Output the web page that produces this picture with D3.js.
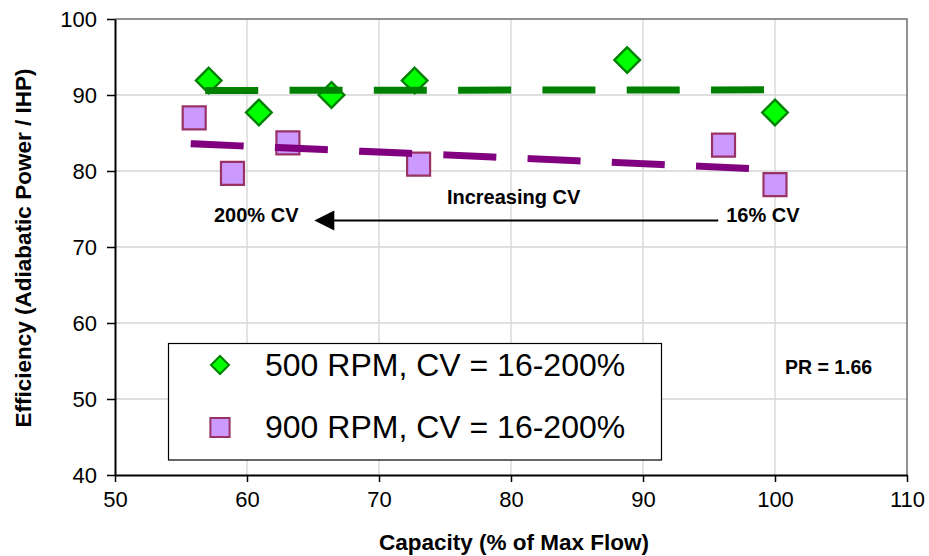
<!DOCTYPE html>
<head>
    <meta charset="utf-8">
    <title>Efficiency vs Capacity</title>
    <style>
        body { margin: 0; background: #fff; }
        text { font-family: "Liberation Sans", Arial, sans-serif; fill: #000; }
    </style>
</head>

<body>

<svg width="929" height="556"></svg>

<script src="https://cdnjs.cloudflare.com/ajax/libs/d3/7.8.5/d3.min.js"></script>

<script>

    // data
    var rpm500X = [57.1, 60.9, 66.4, 72.7, 88.8, 100.0],
        rpm500Y = [91.9, 87.7, 90.0, 91.9, 94.6, 87.7];
    var rpm900X = [56.0, 58.9, 63.1, 73.0, 96.1, 100.0],
        rpm900Y = [87.0, 79.7, 83.7, 80.9, 83.4, 78.2];

    var xTicks = [50, 60, 70, 80, 90, 100, 110],
        yTicks = [40, 50, 60, 70, 80, 90, 100];

    var legendLabels = ["500 RPM, CV = 16-200%", "900 RPM, CV = 16-200%"];

    var svg = d3.select("svg");

    var x = d3.scaleLinear().domain([50, 110]).range([115, 907]),
        y = d3.scaleLinear().domain([40, 100]).range([475, 19]);

    var series = [
        {x: rpm500X, y: rpm500Y, shape: "diamond", fill: "#00ff00", stroke: "#008000", line: "#008000"},
        {x: rpm900X, y: rpm900Y, shape: "square",  fill: "#cc99ff", stroke: "#993366", line: "#800080"}
    ];

    // gridlines
    svg.append("g").selectAll("line")
        .data(xTicks.slice(1, -1))
        .enter().append("line")
        .attr("x1", function(d) { return x(d); }).attr("x2", function(d) { return x(d); })
        .attr("y1", y(100)).attr("y2", y(40))
        .attr("stroke", "#d4d4d4").attr("stroke-width", 1.3);

    svg.append("g").selectAll("line")
        .data(yTicks.slice(1, -1))
        .enter().append("line")
        .attr("x1", x(50)).attr("x2", x(110))
        .attr("y1", function(d) { return y(d); }).attr("y2", function(d) { return y(d); })
        .attr("stroke", "#d4d4d4").attr("stroke-width", 1.3);

    // top / right frame
    svg.append("path")
        .attr("d", "M" + x(50) + "," + y(100) + "H" + x(110) + "V" + y(40))
        .attr("fill", "none").attr("stroke", "#6e6e6e").attr("stroke-width", 1.5);

    // axes
    var xAxis = svg.append("g")
        .attr("transform", "translate(0," + y(40) + ")")
        .call(d3.axisBottom(x).tickValues(xTicks).tickSize(7).tickPadding(9).tickSizeOuter(0));
    var yAxis = svg.append("g")
        .attr("transform", "translate(" + x(50) + ",0)")
        .call(d3.axisLeft(y).tickValues(yTicks).tickSize(8).tickPadding(10).tickSizeOuter(0));

    [xAxis, yAxis].forEach(function(a) {
        a.select(".domain").attr("stroke", "#000").attr("stroke-width", 2);
        a.selectAll(".tick line").attr("stroke", "#000").attr("stroke-width", 1.5);
        a.selectAll("text")
            .style("font-family", "'Liberation Sans', Arial, sans-serif")
            .style("font-size", "22px").attr("fill", "#000");
    });
    yAxis.selectAll("text").attr("dy", "0.35em");

    // axis titles
    svg.append("text")
        .attr("x", 514).attr("y", 550)
        .attr("text-anchor", "middle")
        .style("font-size", "22.5px").style("font-weight", "bold")
        .text("Capacity (% of Max Flow)");

    svg.append("text")
        .attr("transform", "translate(31,248) rotate(-90)")
        .attr("text-anchor", "middle")
        .style("font-size", "22.5px").style("font-weight", "bold")
        .text("Efficiency (Adiabatic Power / IHP)");

    // marker shapes
    function marker(shape, r) {
        if (shape === "diamond") return "M0," + (-r) + "L" + r + ",0L0," + r + "L" + (-r) + ",0Z";
        return "M" + (-r) + "," + (-r) + "H" + r + "V" + r + "H" + (-r) + "Z";
    }

    // points
    series.forEach(function(s) {
        svg.append("g").selectAll("path")
            .data(s.x.map(function(v, i) { return [v, s.y[i]]; }))
            .enter().append("path")
            .attr("transform", function(d) { return "translate(" + x(d[0]) + "," + y(d[1]) + ")"; })
            .attr("d", marker(s.shape, s.shape === "diamond" ? 12.8 : 11.5))
            .attr("fill", s.fill)
            .attr("stroke", s.stroke)
            .attr("stroke-width", s.shape === "diamond" ? 2.4 : 2.2);
    });

    // linear trendlines (least squares on each series)
    series.forEach(function(s) {
        var mx = d3.mean(s.x), my = d3.mean(s.y);
        var num = d3.sum(s.x, function(v, i) { return (v - mx) * (s.y[i] - my); });
        var den = d3.sum(s.x, function(v) { return (v - mx) * (v - mx); });
        var slope = num / den, icpt = my - slope * mx;
        var x0 = d3.min(s.x), x1 = d3.max(s.x);
        svg.append("line")
            .attr("x1", x(x0)).attr("y1", y(icpt + slope * x0))
            .attr("x2", x(x1)).attr("y2", y(icpt + slope * x1))
            .attr("stroke", s.line)
            .attr("stroke-width", 7)
            .attr("stroke-linecap", "square")
            .attr("stroke-dasharray", "46,38.3");
    });

    // annotations
    svg.append("text")
        .attr("x", x(80.2)).attr("y", y(75.7))
        .attr("text-anchor", "middle")
        .style("font-size", "20px").style("font-weight", "bold")
        .text("Increasing CV");

    svg.append("text")
        .attr("x", x(57.5)).attr("y", y(73.35))
        .style("font-size", "20px").style("font-weight", "bold")
        .text("200% CV");

    svg.append("text")
        .attr("x", x(96.3)).attr("y", y(73.35))
        .style("font-size", "20px").style("font-weight", "bold")
        .text("16% CV");

    svg.append("text")
        .attr("x", x(100.75)).attr("y", y(53.3))
        .style("font-size", "19.5px").style("font-weight", "bold")
        .text("PR = 1.66");

    // arrow: from 16% CV toward 200% CV
    var arrowY = y(73.5), tipX = x(65.1);
    svg.append("line")
        .attr("x1", x(95.7)).attr("y1", arrowY)
        .attr("x2", tipX + 12).attr("y2", arrowY)
        .attr("stroke", "#000").attr("stroke-width", 2);
    svg.append("path")
        .attr("d", "M" + tipX + "," + arrowY + "l20,-10v20z")
        .attr("fill", "#000");

    // legend
    var legend = svg.append("g");
    legend.append("rect")
        .attr("x", 168.5).attr("y", 343.5)
        .attr("width", 493).attr("height", 116.5)
        .attr("fill", "#fff").attr("stroke", "#000").attr("stroke-width", 1.2);

    series.forEach(function(s, i) {
        var ly = 365 + i * 62.5;
        legend.append("path")
            .attr("transform", "translate(220," + ly + ")")
            .attr("d", marker(s.shape, s.shape === "diamond" ? 9 : 9.6))
            .attr("fill", s.fill)
            .attr("stroke", s.stroke)
            .attr("stroke-width", 2);
        legend.append("text")
            .attr("x", 265).attr("y", ly + 10.5)
            .style("font-size", "32px")
            .text(legendLabels[i]);
    });

</script>

</body>
